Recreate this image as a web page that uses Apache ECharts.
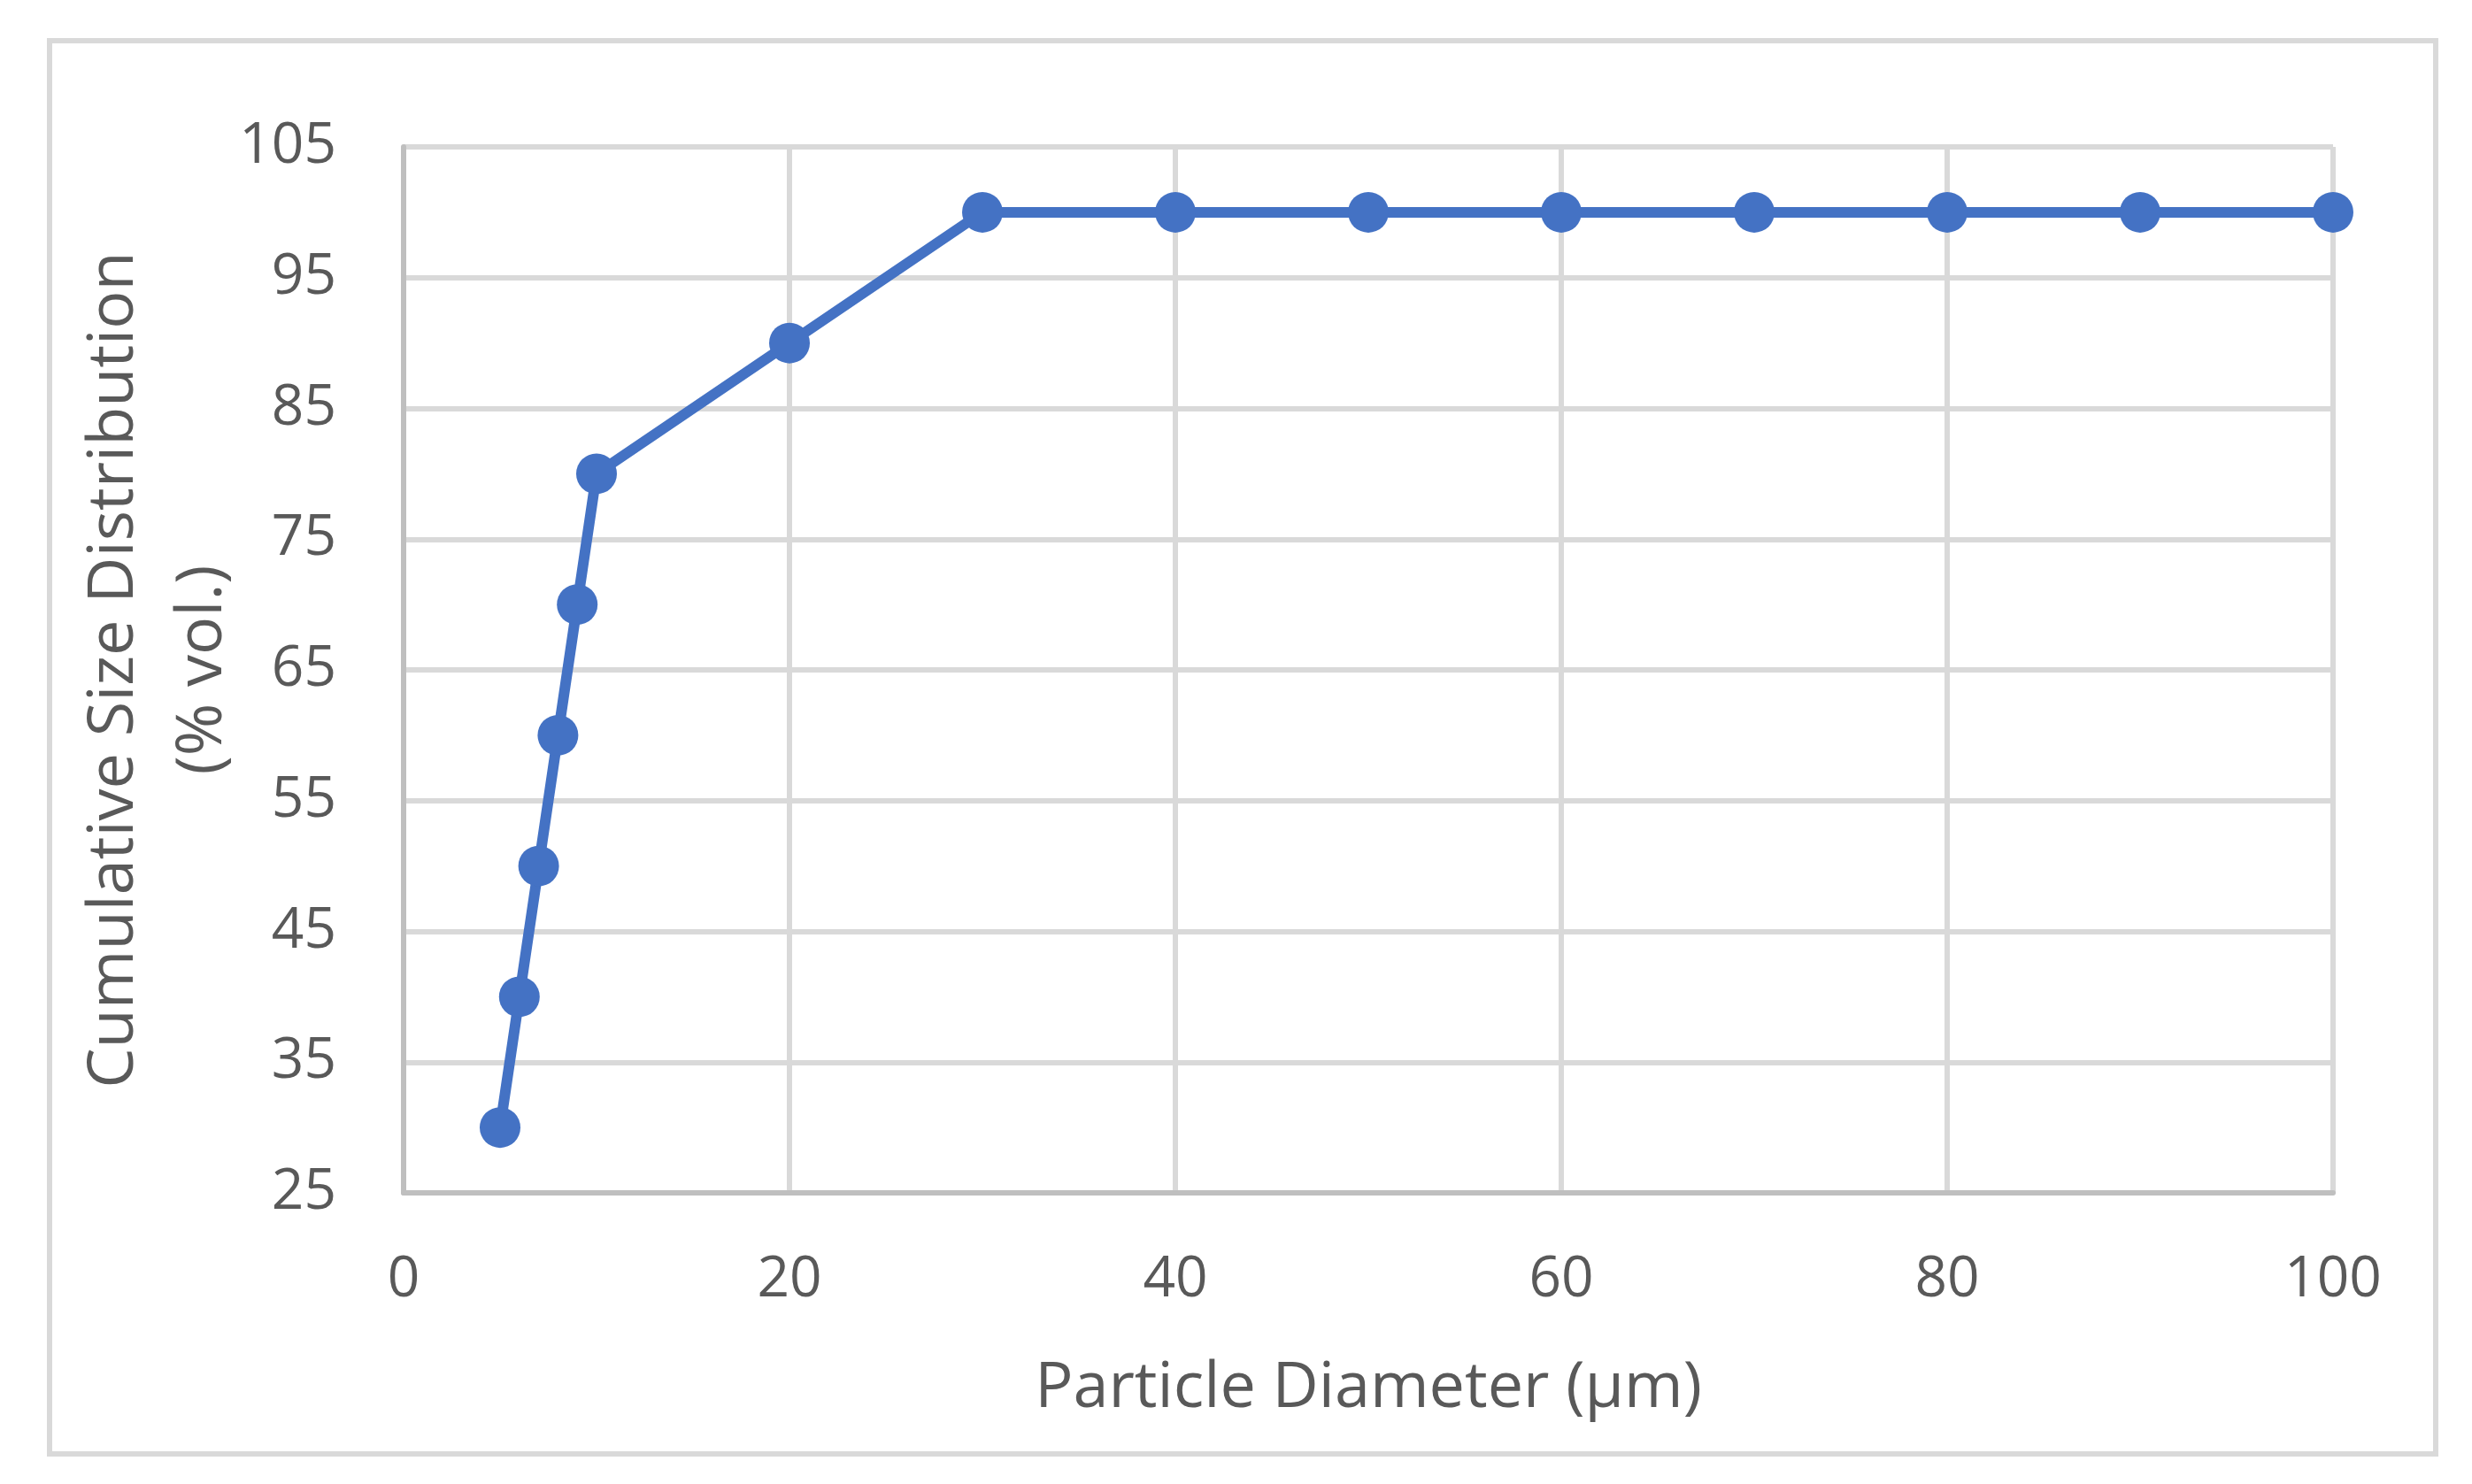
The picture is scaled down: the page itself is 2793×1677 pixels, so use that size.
<!DOCTYPE html>
<html>
<head>
<meta charset="utf-8">
<script src="https://cdn.jsdelivr.net/npm/echarts@6/dist/echarts.min.js"></script>
<style>
  html, body { margin: 0; padding: 0; background: #fff; }
  #chart { width: 2793px; height: 1677px; }
</style>
</head>
<body>
<div id="chart"></div>
<script>
// particle diameter (µm) and cumulative volume %
const diameters = [5, 6, 7, 8, 9, 10, 20, 30, 40, 50, 60, 70, 80, 90, 100];
const cumulative = [30, 40, 50, 60, 70, 80, 90, 100, 100, 100, 100, 100, 100, 100, 100];
const yTicks = [25, 35, 45, 55, 65, 75, 85, 95, 105];

const font = '"Open Sans", "Noto Sans", sans-serif';
const textColor = '#595959';

const chart = echarts.init(document.getElementById('chart'));
chart.setOption({
  backgroundColor: '#fff',
  animation: false,
  graphic: [
    {
      type: 'rect',
      shape: { x: 56, y: 46, width: 2696, height: 1597 },
      style: { fill: 'none', stroke: '#d9d9d9', lineWidth: 6 }
    }
  ],
  grid: { left: 456, right: 157, top: 166, bottom: 329 },
  xAxis: {
    type: 'value',
    min: 0,
    max: 100,
    interval: 20,
    name: 'Particle Diameter (µm)',
    nameLocation: 'middle',
    nameGap: 185,
    nameMoveOverlap: false,
    nameTextStyle: { fontSize: 72, color: textColor, fontFamily: font },
    axisLine: { show: true, lineStyle: { color: '#bfbfbf', width: 6 } },
    axisTick: { show: false },
    axisLabel: { fontSize: 64, color: textColor, fontFamily: font, margin: 67 },
    splitLine: { show: true, lineStyle: { color: '#d9d9d9', width: 6 } }
  },
  yAxis: {
    type: 'value',
    min: 25,
    max: 105,
    name: 'Cumulative Size Distribution\n(% vol.)',
    nameLocation: 'middle',
    nameRotate: 90,
    nameGap: 177,
    nameMoveOverlap: false,
    nameTextStyle: { fontSize: 72, lineHeight: 100, color: textColor, fontFamily: font, align: 'center' },
    axisLine: { show: true, onZero: false, lineStyle: { color: '#bfbfbf', width: 6 } },
    axisTick: { show: false, customValues: yTicks },
    axisLabel: { fontSize: 64, color: textColor, fontFamily: font, margin: 76, customValues: yTicks },
    splitLine: { show: true, lineStyle: { color: '#d9d9d9', width: 6 } }
  },
  series: [
    {
      type: 'line',
      data: diameters.map((d, i) => [d, cumulative[i]]),
      symbol: 'circle',
      symbolSize: 46,
      itemStyle: { color: '#4472c4' },
      lineStyle: { color: '#4472c4', width: 12 }
    }
  ]
});
</script>
</body>
</html>
